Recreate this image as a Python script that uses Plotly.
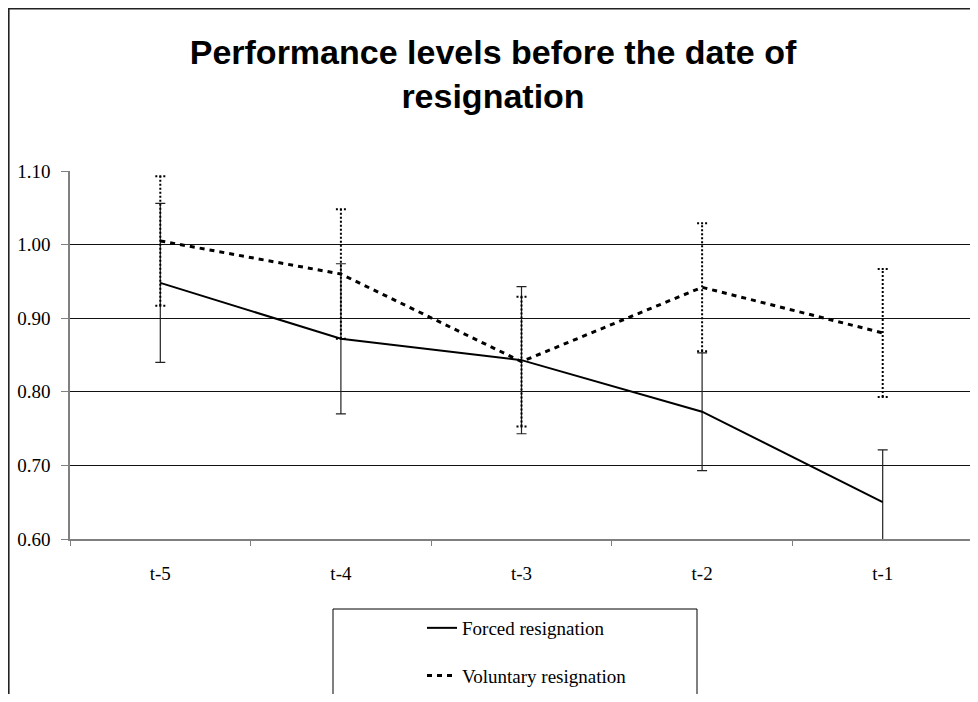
import plotly.graph_objects as go

# ---- data ----
periods = ["t-5", "t-4", "t-3", "t-2", "t-1"]
forced_mean = [0.948, 0.872, 0.843, 0.773, 0.650]
forced_err = [0.108, 0.102, 0.100, 0.080, 0.071]
vol_mean = [1.005, 0.960, 0.841, 0.942, 0.880]
vol_err = [0.088, 0.088, 0.088, 0.087, 0.087]
y_ticks = [0.60, 0.70, 0.80, 0.90, 1.00, 1.10]

# page body has an 8px margin, so the figure is laid out in its own coords
W, H = 970, 686
ML, MR, MT, MB = 62, 5, 163, 155
PW, PH = W - ML - MR, H - MT - MB

xs = list(range(len(periods)))
serif = "Liberation Serif, Times New Roman, serif"

fig = go.Figure()

# Forced resignation (solid, native error bars)
fig.add_trace(go.Scatter(
    x=xs, y=forced_mean, mode="lines", name="Forced resignation",
    line=dict(color="black", width=2),
    error_y=dict(type="data", array=forced_err, visible=True,
                 color="#222222", thickness=1.2, width=5),
    legendgroup="f",
))

# Voluntary resignation error bars drawn as dotted segments
cap = 5 / (PW / len(periods))
ex, ey = [], []
for i, (m, e) in enumerate(zip(vol_mean, vol_err)):
    ex += [i, i, None]
    ey += [m - e, m + e, None]
    for v in (m - e, m + e):
        ex += [i - cap, i + cap, None]
        ey += [v, v, None]
fig.add_trace(go.Scatter(
    x=ex, y=ey, mode="lines", showlegend=False, hoverinfo="skip",
    line=dict(color="black", width=2, dash="2px,2px"),
))

fig.add_trace(go.Scatter(
    x=xs, y=vol_mean, mode="lines", name="Voluntary resignation",
    line=dict(color="black", width=3, dash="5px,5px"),
    legendgroup="v",
))


def px_x(p):
    return (p - ML) / PW


def px_y(p):
    return (H - MB - p) / PH


shapes = [
    # outer chart border
    dict(type="rect", xref="paper", yref="paper",
         x0=px_x(0.8), x1=px_x(W + 20), y0=px_y(H + 20), y1=px_y(0.8),
         line=dict(color="#222222", width=1.6), layer="below"),
    # legend box
    dict(type="rect", xref="paper", yref="paper",
         x0=px_x(325), x1=px_x(689), y0=px_y(H + 20), y1=px_y(601),
         line=dict(color="black", width=1)),
]

fig.update_layout(
    width=W, height=H,
    margin=dict(l=ML, r=MR, t=MT, b=MB, autoexpand=False),
    paper_bgcolor="white", plot_bgcolor="white",
    title=dict(text="Performance levels before the date of<br>resignation",
               x=0.5, xanchor="center", xref="container",
               y=1 - 56 / H, yanchor="middle", yref="container",
               font=dict(family="Liberation Sans, Arial, sans-serif", size=34,
                         color="black", weight="bold")),
    showlegend=True,
    legend=dict(x=px_x(414), y=px_y(601), xanchor="left", yanchor="top",
                xref="paper", yref="paper",
                bgcolor="rgba(0,0,0,0)", borderwidth=0,
                traceorder="grouped", tracegroupgap=20,
                font=dict(family=serif, size=19, color="black")),
    shapes=shapes,
    xaxis=dict(
        range=[-0.5, len(periods) - 0.5],
        tickvals=xs, ticktext=periods, ticks="",
        showgrid=False, zeroline=False,
        showline=True, linecolor="#808080", linewidth=1.5,
        tickfont=dict(family=serif, size=19, color="black"),
        ticklabelstandoff=16,
        minor=dict(tickvals=[i - 0.5 for i in range(len(periods) + 1)],
                   ticks="outside", ticklen=5, tickcolor="#808080",
                   tickwidth=1.2, showgrid=False),
    ),
    yaxis=dict(
        range=[0.60, 1.10],
        tickvals=y_ticks, ticktext=[f"{v:.2f}" for v in y_ticks],
        ticks="outside", ticklen=7, tickcolor="#808080", tickwidth=1.2,
        showgrid=True, gridcolor="#111111", gridwidth=1,
        zeroline=False,
        showline=True, linecolor="#808080", linewidth=1.5,
        tickfont=dict(family=serif, size=19, color="black"),
        ticklabelstandoff=7,
    ),
)

fig.write_html("out.html")
